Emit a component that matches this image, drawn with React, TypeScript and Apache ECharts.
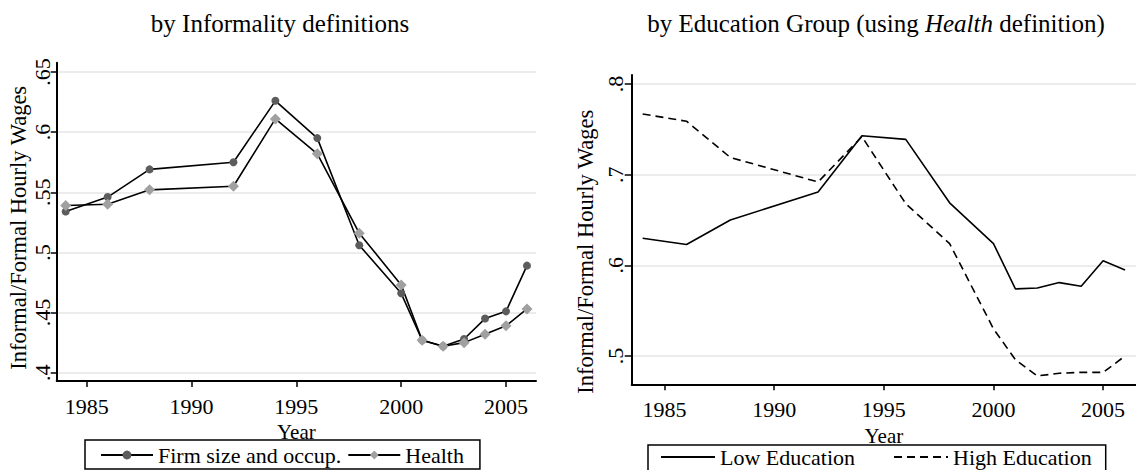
import React, { useEffect, useRef } from "react";
import * as echarts from "echarts";

const years = [1984, 1986, 1988, 1992, 1994, 1996, 1998, 2000, 2001, 2002, 2003, 2004, 2005, 2006];
const firmSize = [0.534, 0.546, 0.569, 0.575, 0.626, 0.595, 0.506, 0.466, 0.427, 0.422, 0.428, 0.445, 0.451, 0.489];
const health = [0.539, 0.540, 0.552, 0.555, 0.611, 0.582, 0.516, 0.473, 0.427, 0.422, 0.425, 0.432, 0.439, 0.453];
const lowEdu = [0.630, 0.623, 0.650, 0.681, 0.743, 0.739, 0.669, 0.624, 0.574, 0.575, 0.581, 0.577, 0.605, 0.595];
const highEdu = [0.767, 0.759, 0.719, 0.692, 0.742, 0.668, 0.624, 0.530, 0.496, 0.478, 0.481, 0.482, 0.482, 0.500];
const xTicks = [1985, 1990, 1995, 2000, 2005];
const leftYTicks = [0.4, 0.45, 0.5, 0.55, 0.6, 0.65];
const rightYTicks = [0.5, 0.6, 0.7, 0.8];

const FONT = "Liberation Serif";
const fmtY = (v: number) => String(+Number(v).toFixed(2)).replace(/^0/, "");

function xAxisCfg(gridIndex: number, min: number, max: number, labelMargin: number, nameGap: number) {
  return {
    type: "value",
    gridIndex,
    min,
    max,
    name: "Year",
    nameLocation: "middle",
    nameGap,
    nameTextStyle: { fontFamily: FONT, fontSize: 21, lineHeight: 14, color: "#000" },
    axisLine: { show: true, lineStyle: { color: "#000", width: 2 } },
    axisTick: { show: true, length: 6, lineStyle: { color: "#000", width: 1.5 }, customValues: xTicks },
    axisLabel: {
      customValues: xTicks,
      formatter: (v: number) => String(Math.round(v)),
      margin: labelMargin,
      fontFamily: FONT,
      fontSize: 22,
      lineHeight: 16,
      color: "#000",
    },
    splitLine: { show: false },
  };
}

function yAxisCfg(gridIndex: number, min: number, max: number, ticks: number[], tickLen: number, labelMargin: number, nameGap: number, namePadRight: number) {
  return {
    type: "value",
    gridIndex,
    min,
    max,
    name: "Informal/Formal Hourly Wages",
    nameLocation: "middle",
    nameGap,
    nameTextStyle: { fontFamily: FONT, fontSize: 22.5, color: "#000", padding: [0, namePadRight, 0, 0] },
    axisLine: { show: true, lineStyle: { color: "#000", width: 2 } },
    axisTick: { show: true, length: tickLen, lineStyle: { color: "#000", width: 1.5 }, customValues: ticks },
    axisLabel: {
      customValues: ticks,
      formatter: fmtY,
      rotate: 90,
      margin: labelMargin,
      fontFamily: FONT,
      fontSize: 22,
      color: "#000",
    },
    splitLine: { show: true, lineStyle: { color: "#e6e6e6", width: 1.5 } },
  };
}

export default function App() {
  const ref = useRef<HTMLDivElement>(null);
  useEffect(() => {
    if (!ref.current) return;
    const chart = echarts.init(ref.current, null, { renderer: "svg" });
    const titleStyle = { fontFamily: FONT, fontSize: 25, fontWeight: "normal", color: "#000" };
    const option: any = {
      animation: false,
      backgroundColor: "#fff",
      title: [
        {
          text: "by Informality definitions",
          left: 280,
          top: 11,
          padding: 0,
          textAlign: "center",
          textStyle: titleStyle,
        },
        {
          text: "{a|by Education Group (using }{b|Health}{a| definition)}",
          left: 876,
          top: 11,
          padding: 0,
          textAlign: "center",
          textStyle: {
            ...titleStyle,
            rich: {
              a: { fontFamily: FONT, fontSize: 25, color: "#000" },
              b: { fontFamily: FONT, fontSize: 25, color: "#000", fontStyle: "italic" },
            },
          },
        },
      ],
      grid: [
        { left: 56.7, top: 62.7, width: 479.3, height: 318.3 },
        { left: 631.7, top: 75, width: 506.7, height: 309.3 },
      ],
      xAxis: [xAxisCfg(0, 1983.57, 2006.43, 17, 32), xAxisCfg(1, 1983.5, 2006.5, 17, 44)],
      yAxis: [
        yAxisCfg(0, 0.3931, 0.6577, leftYTicks, 6, 3, 26.5, 12),
        yAxisCfg(1, 0.4688, 0.81, rightYTicks, 7, 5, 35, 44),
      ],
      legend: [
        {
          data: ["Firm size and occup.", "Health"],
          left: 85,
          top: 440,
          orient: "horizontal",
          itemWidth: 52,
          itemHeight: 11,
          itemGap: 6,
          padding: [4, 16, 3, 15],
          borderColor: "#000",
          borderWidth: 1.5,
          borderRadius: 0,
          textStyle: { fontFamily: FONT, fontSize: 22, lineHeight: 18, color: "#000" },
        },
        {
          data: ["Low Education", "High Education"],
          left: 648,
          top: 445,
          orient: "horizontal",
          itemWidth: 54,
          itemHeight: 10,
          itemGap: 38,
          padding: [1, 14, 3, 12],
          borderColor: "#000",
          borderWidth: 1.5,
          borderRadius: 0,
          itemStyle: { opacity: 0 },
          textStyle: { fontFamily: FONT, fontSize: 22, lineHeight: 18, color: "#000" },
        },
      ],
      series: [
        {
          type: "line",
          name: "Firm size and occup.",
          xAxisIndex: 0,
          yAxisIndex: 0,
          data: years.map((y, i) => [y, firmSize[i]]),
          symbol: "circle",
          symbolSize: 8,
          itemStyle: { color: "#5c5c5c" },
          lineStyle: { color: "#000", width: 1.6 },
          emphasis: { disabled: true },
        },
        {
          type: "line",
          name: "Health",
          xAxisIndex: 0,
          yAxisIndex: 0,
          data: years.map((y, i) => [y, health[i]]),
          symbol: "diamond",
          symbolSize: 11,
          itemStyle: { color: "#a0a0a0" },
          lineStyle: { color: "#000", width: 1.6 },
          emphasis: { disabled: true },
        },
        {
          type: "line",
          name: "Low Education",
          xAxisIndex: 1,
          yAxisIndex: 1,
          data: years.map((y, i) => [y, lowEdu[i]]),
          symbol: "none",
          itemStyle: { color: "#000" },
          lineStyle: { color: "#000", width: 1.6 },
          emphasis: { disabled: true },
        },
        {
          type: "line",
          name: "High Education",
          xAxisIndex: 1,
          yAxisIndex: 1,
          data: years.map((y, i) => [y, highEdu[i]]),
          symbol: "none",
          itemStyle: { color: "#000" },
          lineStyle: { color: "#000", width: 1.6, type: [8, 5] },
          emphasis: { disabled: true },
        },
      ],
    };
    chart.setOption(option);
    return () => chart.dispose();
  }, []);
  return (
    <div
      ref={ref}
      style={{ position: "absolute", left: 0, top: 0, width: 1136, height: 470, background: "#fff" }}
    />
  );
}
